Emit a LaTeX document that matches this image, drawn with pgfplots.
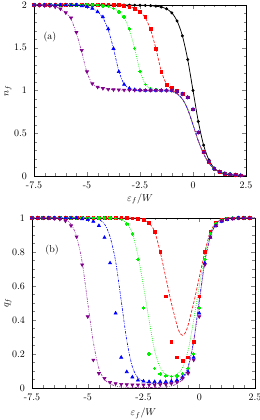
\documentclass[border=0pt]{standalone}
\usepackage{pgfplots}
\pgfplotsset{compat=1.18}
\definecolor{cred}{rgb}{1,0,0}
\definecolor{cgreen}{rgb}{0,0.95,0}
\definecolor{cblue}{rgb}{0,0,1}
\definecolor{cpurple}{rgb}{0.5,0,0.55}
\pgfplotsset{
  base/.style={scale only axis, xmin=-7.5, xmax=2.5,
    xtick={-7.5,-5,-2.5,0,2.5}, xticklabels={-7.5,-5,-2.5,0,2.5},
    minor x tick num=4, tick align=inside,
    major tick length=4bp, minor tick length=2.5bp,
    xticklabel style={yshift=-2.5bp}, yticklabel style={xshift=-3.5bp},
    xlabel={$\varepsilon_f/W$},
    every axis plot/.append style={line width=0.6pt},
  },
  blk/.style={black, solid, line width=0.75pt},
  rl/.style={cred, dash pattern=on 3pt off 1.6pt},
  gl/.style={cgreen, dash pattern=on 0.8pt off 1.2pt},
  bl/.style={cblue, dash pattern=on 2.6pt off 1.2pt on 0.8pt off 1.2pt},
  pl/.style={cpurple!80, dash pattern=on 2.6pt off 1.2pt on 0.8pt off 1.2pt on 0.8pt off 1.2pt},
  bm/.style={only marks, mark=*, mark size=1.2pt, black},
  rm/.style={only marks, mark=square*, mark size=1.4pt, cred},
  gm/.style={only marks, mark=+, mark size=1.8pt, cgreen, mark options={line width=1.4pt}},
  tm/.style={only marks, mark=triangle*, mark size=1.8pt, cblue},
  pm/.style={only marks, mark=triangle*, mark size=1.8pt, cpurple, mark options={rotate=180}},
}
\begin{document}
\begin{tikzpicture}
\useasboundingbox (0,0) rectangle (260bp,420bp);
% ---------------- top panel (a)
\begin{axis}[base, at={(34bp,244bp)}, anchor=south west, width=212bp, height=171bp,
  ymin=0, ymax=2, ytick={0,0.5,1,1.5,2}, yticklabels={0,0.5,1,1.5,2}, minor y tick num=4,
  ylabel={$n_f$},
  ylabel style={at={(axis description cs:-0.123,0.5)}, anchor=center},
  xlabel style={at={(axis description cs:0.5,-0.135)}, anchor=center}]
% lines
\addplot[blk, smooth] coordinates {(-7.5,2)(-3.5,2)(-3,1.999)(-2.5,1.997)(-2.25,1.995)(-2,1.992)(-1.75,1.986)(-1.5,1.976)(-1.25,1.955)(-1,1.908)(-0.75,1.813)(-0.5,1.639)(-0.25,1.362)(0,1)(0.25,0.638)(0.5,0.361)(0.75,0.187)(1,0.092)(1.25,0.046)(1.5,0.024)(1.75,0.013)(2,0.007)(2.25,0.004)(2.5,0.002)};
\addplot[rl, smooth] coordinates {(-7.5,2)(-3.5,2)(-3.25,1.99)(-3,1.98)(-2.75,1.96)(-2.5,1.92)(-2.25,1.85)(-2,1.71)(-1.75,1.49)(-1.5,1.23)(-1.25,1.075)(-1,1.015)(-0.75,0.968)(-0.5,0.9)(-0.25,0.78)(0,0.6)(0.25,0.41)(0.5,0.26)(0.75,0.15)(1,0.085)(1.25,0.05)(1.5,0.03)(1.75,0.02)(2,0.012)(2.5,0.005)};
\addplot[gl, smooth] coordinates {(-7.5,2)(-4.5,2)(-4.25,1.99)(-4,1.98)(-3.75,1.96)(-3.5,1.92)(-3.25,1.85)(-3,1.71)(-2.75,1.49)(-2.5,1.23)(-2.25,1.075)(-2,1.025)(-1.75,1.008)(-1.5,1.003)(-1.25,1.0)(-1,0.99)(-0.75,0.96)(-0.5,0.9)(-0.25,0.78)(0,0.6)(0.25,0.41)(0.5,0.26)(0.75,0.15)(1,0.085)(1.25,0.05)(1.5,0.03)(1.75,0.02)(2,0.012)(2.5,0.005)};
\addplot[bl, smooth] coordinates {(-7.5,2)(-5.5,2)(-5.25,1.99)(-5,1.98)(-4.75,1.96)(-4.5,1.92)(-4.25,1.85)(-4,1.71)(-3.75,1.49)(-3.5,1.23)(-3.25,1.075)(-3,1.025)(-2.75,1.008)(-2.5,1.003)(-2,1.0)(-1.25,1.0)(-1,0.99)(-0.75,0.96)(-0.5,0.9)(-0.25,0.78)(0,0.6)(0.25,0.41)(0.5,0.26)(0.75,0.15)(1,0.085)(1.25,0.05)(1.5,0.03)(1.75,0.02)(2,0.012)(2.5,0.005)};
\addplot[pl, smooth] coordinates {(-7.5,1.998)(-7.25,1.995)(-7,1.993)(-6.75,1.99)(-6.5,1.978)(-6.25,1.955)(-6,1.91)(-5.75,1.83)(-5.5,1.67)(-5.25,1.45)(-5,1.21)(-4.75,1.08)(-4.5,1.04)(-4.25,1.025)(-4,1.015)(-3.5,1.006)(-3,1.002)(-2,1.0)(-1.25,1.0)(-1,0.99)(-0.75,0.96)(-0.5,0.9)(-0.25,0.78)(0,0.6)(0.25,0.41)(0.5,0.26)(0.75,0.15)(1,0.085)(1.25,0.05)(1.5,0.03)(1.75,0.02)(2,0.012)(2.5,0.005)};
% markers
\addplot[bm] coordinates {(-7.5,2)(-7.25,2)(-7,2)(-6.75,2)(-6.5,2)(-6.25,2)(-6,2)(-5.75,2)(-5.5,2)(-5.25,2)(-5,2)(-4.75,2)(-4.5,2)(-4.25,2)(-4,2)(-3.75,2)(-3.5,2)(-3.25,2)(-3,1.999)(-2.75,1.998)(-2.5,1.997)(-2.25,1.995)(-2,1.992)(-1.75,1.986)(-1.5,1.976)(-1.25,1.955)(-1,1.908)(-0.75,1.813)(-0.5,1.639)(-0.25,1.362)(0,1)(0.25,0.638)(0.5,0.361)(0.75,0.187)(1,0.092)(1.25,0.046)(1.5,0.024)(1.75,0.013)(2,0.007)(2.25,0.004)};
\addplot[rm] coordinates {(-7.5,2)(-7.25,2)(-7,2)(-6.75,2)(-6.5,2)(-6.25,2)(-6,2)(-5.75,2)(-5.5,2)(-5.25,2)(-5,2)(-4.75,2)(-4.5,2)(-4.25,2)(-4,2)(-3.75,2)(-3.5,2)(-3.25,1.99)(-3,1.98)(-2.75,1.96)(-2.5,1.92)(-2.25,1.86)(-2,1.72)(-1.75,1.49)(-1.5,1.22)(-1.25,1.07)(-1,1.03)(-0.75,1.0)(-0.5,0.96)(-0.25,0.92)(0,0.78)(0.25,0.51)(0.5,0.28)(0.75,0.17)(1,0.085)(1.25,0.05)(1.5,0.03)(1.75,0.02)(2,0.013)(2.25,0.008)};
\addplot[gm] coordinates {(-7.5,2)(-7.25,2)(-7,2)(-6.75,2)(-6.5,2)(-6.25,2)(-6,2)(-5.75,2)(-5.5,2)(-5.25,2)(-5,2)(-4.75,2)(-4.5,2)(-4.25,1.99)(-4,1.98)(-3.75,1.96)(-3.5,1.92)(-3.25,1.86)(-3,1.72)(-2.75,1.49)(-2.5,1.22)(-2.25,1.07)(-2,1.025)(-1.75,1.01)(-1.5,1.005)(-1.25,1.0)(-1,1.0)(-0.75,0.99)(-0.5,0.96)(-0.25,0.92)(0,0.78)(0.25,0.51)(0.5,0.28)(0.75,0.17)(1,0.085)(1.25,0.05)(1.5,0.03)(1.75,0.02)(2,0.013)(2.25,0.008)};
\addplot[tm] coordinates {(-7.5,2)(-7.25,2)(-7,2)(-6.75,2)(-6.5,2)(-6.25,2)(-6,2)(-5.75,2)(-5.5,2)(-5.25,1.99)(-5,1.98)(-4.75,1.96)(-4.5,1.92)(-4.25,1.86)(-4,1.72)(-3.75,1.49)(-3.5,1.22)(-3.25,1.07)(-3,1.025)(-2.75,1.01)(-2.5,1.005)(-2.25,1.0)(-2,1.0)(-1.75,1.0)(-1.5,1.0)(-1.25,1.0)(-1,1.0)(-0.75,0.99)(-0.5,0.96)(-0.25,0.92)(0,0.78)(0.25,0.51)(0.5,0.28)(0.75,0.17)(1,0.085)(1.25,0.05)(1.5,0.03)(1.75,0.02)(2,0.013)(2.25,0.008)};
\addplot[pm] coordinates {(-7.5,1.998)(-7.25,1.995)(-7,1.993)(-6.75,1.99)(-6.5,1.978)(-6.25,1.955)(-6,1.91)(-5.75,1.85)(-5.5,1.68)(-5.25,1.47)(-5,1.22)(-4.75,1.08)(-4.5,1.04)(-4.25,1.025)(-4,1.015)(-3.75,1.01)(-3.5,1.008)(-3.25,1.006)(-3,1.005)(-2.75,1.004)(-2.5,1.003)(-2.25,1.003)(-2,1.002)(-1.75,1.002)(-1.5,1.001)(-1.25,1.0)(-1,1.0)(-0.75,0.99)(-0.5,0.96)(-0.25,0.92)(0,0.78)(0.25,0.51)(0.5,0.28)(0.75,0.17)(1,0.085)(1.25,0.05)(1.5,0.03)(1.75,0.02)(2,0.013)(2.25,0.008)};
\node at (axis cs:-6.75,1.63) {(a)};
\end{axis}
% ---------------- bottom panel (b)
\begin{axis}[base, at={(32bp,32bp)}, anchor=south west, width=223bp, height=170bp,
  ymin=0, ymax=1, ytick={0,0.2,0.4,0.6,0.8,1}, yticklabels={0,0.2,0.4,0.6,0.8,1}, minor y tick num=3,
  ylabel={$q_f$},
  ylabel style={at={(axis description cs:-0.108,0.5)}, anchor=center},
  xlabel style={at={(axis description cs:0.5,-0.15)}, anchor=center}]
% lines
\addplot[rl, smooth] coordinates {(-7.5,1)(-3,1)(-2.75,0.998)(-2.5,0.99)(-2.25,0.97)(-2,0.92)(-1.75,0.80)(-1.5,0.65)(-1.25,0.50)(-1,0.37)(-0.875,0.325)(-0.75,0.31)(-0.625,0.325)(-0.5,0.37)(-0.25,0.50)(0,0.65)(0.25,0.80)(0.5,0.92)(0.75,0.97)(1,0.99)(1.25,0.998)(1.5,1)(2.5,1)};
\addplot[gl, smooth] coordinates {(-7.5,1)(-3.75,1)(-3.5,0.99)(-3.25,0.97)(-3,0.91)(-2.75,0.78)(-2.5,0.60)(-2.25,0.40)(-2,0.22)(-1.75,0.12)(-1.5,0.08)(-1.25,0.07)(-1,0.08)(-0.75,0.12)(-0.5,0.22)(-0.25,0.40)(0,0.60)(0.25,0.78)(0.5,0.91)(0.75,0.97)(1,0.99)(1.25,1)(2.5,1)};
\addplot[bl, smooth] coordinates {(-7.5,1)(-4.75,1)(-4.5,0.99)(-4.25,0.965)(-4,0.89)(-3.75,0.745)(-3.5,0.515)(-3.25,0.28)(-3,0.125)(-2.75,0.06)(-2.5,0.04)(-2.25,0.03)(-2,0.027)(-1.75,0.025)(-1.5,0.027)(-1.25,0.03)(-1,0.04)(-0.75,0.06)(-0.5,0.125)(-0.25,0.28)(0,0.515)(0.25,0.745)(0.5,0.89)(0.75,0.965)(1,0.99)(1.25,1)(2.5,1)};
\addplot[pl, smooth] coordinates {(-7.5,1)(-6.25,1)(-6,0.99)(-5.75,0.965)(-5.5,0.89)(-5.25,0.74)(-5,0.50)(-4.75,0.27)(-4.5,0.115)(-4.25,0.05)(-4,0.025)(-3.75,0.011)(-3.5,0.006)(-3.25,0.004)(-3,0.003)(-2.5,0.003)(-2,0.003)(-1.75,0.004)(-1.5,0.006)(-1.25,0.011)(-1,0.025)(-0.75,0.05)(-0.5,0.115)(-0.25,0.27)(0,0.50)(0.25,0.74)(0.5,0.89)(0.75,0.965)(1,0.99)(1.25,1)(2.5,1)};
% markers
\addplot[rm] coordinates {(-7.5,1)(-7.25,1)(-7,1)(-6.75,1)(-6.5,1)(-6.25,1)(-6,1)(-5.75,1)(-5.5,1)(-5.25,1)(-5,1)(-4.75,1)(-4.5,1)(-4.25,1)(-4,1)(-3.75,1)(-3.5,1)(-3.25,1)(-3,0.998)(-2.75,0.995)(-2.5,0.99)(-2.25,0.97)(-2,0.92)(-1.75,0.80)(-1.5,0.54)(-1.25,0.27)(-1,0.18)(-0.75,0.16)(-0.5,0.18)(-0.25,0.27)(0,0.54)(0.25,0.80)(0.5,0.92)(0.75,0.97)(1,0.99)(1.25,0.995)(1.5,0.998)(1.75,1)(2,1)(2.25,1)};
\addplot[gm] coordinates {(-7.5,1)(-7.25,1)(-7,1)(-6.75,1)(-6.5,1)(-6.25,1)(-6,1)(-5.75,1)(-5.5,1)(-5.25,1)(-5,1)(-4.75,1)(-4.5,1)(-4.25,1)(-4,1)(-3.75,0.997)(-3.5,0.99)(-3.25,0.965)(-3,0.905)(-2.75,0.757)(-2.5,0.47)(-2.25,0.20)(-2,0.115)(-1.75,0.082)(-1.5,0.07)(-1.25,0.066)(-1,0.07)(-0.75,0.082)(-0.5,0.115)(-0.25,0.20)(0,0.47)(0.25,0.757)(0.5,0.905)(0.75,0.965)(1,0.99)(1.25,0.997)(1.5,1)(1.75,1)(2,1)(2.25,1)};
\addplot[tm] coordinates {(-7.5,1)(-7.25,1)(-7,1)(-6.75,1)(-6.5,1)(-6.25,1)(-6,1)(-5.75,1)(-5.5,1)(-5.25,0.995)(-5,0.99)(-4.75,0.98)(-4.5,0.955)(-4.25,0.885)(-4,0.735)(-3.75,0.44)(-3.5,0.18)(-3.25,0.095)(-3,0.064)(-2.75,0.046)(-2.5,0.04)(-2.25,0.037)(-2,0.037)(-1.75,0.037)(-1.5,0.037)(-1.25,0.04)(-1,0.046)(-0.75,0.064)(-0.5,0.095)(-0.25,0.18)(0,0.44)(0.25,0.735)(0.5,0.885)(0.75,0.955)(1,0.98)(1.25,0.99)(1.5,0.995)(1.75,1)(2,1)(2.25,1)};
\addplot[pm] coordinates {(-7.5,1)(-7.25,1)(-7,1)(-6.75,1)(-6.5,0.997)(-6.25,0.993)(-6,0.983)(-5.75,0.955)(-5.5,0.89)(-5.25,0.725)(-5,0.42)(-4.75,0.165)(-4.5,0.086)(-4.25,0.057)(-4,0.034)(-3.75,0.026)(-3.5,0.022)(-3.25,0.02)(-3,0.019)(-2.75,0.018)(-2.5,0.018)(-2.25,0.018)(-2,0.019)(-1.75,0.02)(-1.5,0.022)(-1.25,0.026)(-1,0.034)(-0.75,0.057)(-0.5,0.086)(-0.25,0.165)(0,0.42)(0.25,0.725)(0.5,0.89)(0.75,0.955)(1,0.983)(1.25,0.993)(1.5,0.997)(1.75,1)(2,1)(2.25,1)};
\node at (axis cs:-6.6,0.81) {(b)};
\end{axis}
\end{tikzpicture}
\end{document}
